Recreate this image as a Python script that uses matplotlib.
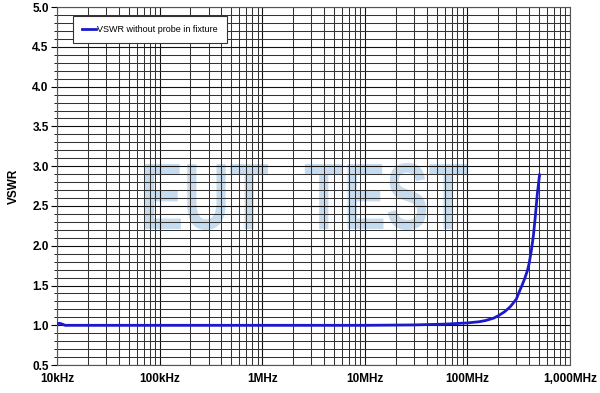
import numpy as np
import matplotlib
matplotlib.use("Agg")
import matplotlib.pyplot as plt
from matplotlib.ticker import FixedLocator, NullFormatter
from matplotlib.textpath import TextPath
from matplotlib.font_manager import FontProperties
from matplotlib.patches import PathPatch
from matplotlib.transforms import Affine2D

plt.rcParams["font.family"] = ["Liberation Sans", "DejaVu Sans"]

# data (frequency in MHz)
freq_mhz = [0.01, 0.0105, 0.011, 0.0115, 0.012, 0.013, 0.02, 0.1, 1, 10, 30,
            60, 100, 130, 150, 180, 200, 230, 260, 280, 300, 320, 340, 360,
            385, 400, 420, 440, 460, 480, 505]
vswr = [1.02, 1.025, 1.02, 1.01, 1.0, 1.0, 1.0, 1.0, 1.0, 1.0, 1.005,
        1.015, 1.03, 1.045, 1.06, 1.09, 1.12, 1.17, 1.23, 1.28, 1.33, 1.42,
        1.5, 1.58, 1.69, 1.78, 1.94, 2.13, 2.38, 2.65, 2.89]
tick_pos = [0.01, 0.1, 1, 10, 100, 1000]
tick_labels = ["10kHz", "100kHz", "1MHz", "10MHz", "100MHz", "1,000MHz"]

fig = plt.figure(figsize=(6, 3.93), dpi=100)
ax = fig.add_axes([0.095, 0.071, 0.855, 0.911])

ax.set_xscale("log")
ax.set_xlim(0.01, 1000)
ax.set_ylim(0.5, 5.0)

# grid
minor_x = [m * 10.0 ** e for e in range(-2, 3) for m in range(2, 10)]
ax.xaxis.set_minor_locator(FixedLocator(minor_x))
ax.xaxis.set_minor_formatter(NullFormatter())
ax.set_xticks(tick_pos)
ax.set_xticklabels(tick_labels, fontweight="bold", fontsize=8.5)
ax.set_yticks(np.arange(0.5, 5.01, 0.5))
ax.set_yticklabels([f"{v:.1f}" for v in np.arange(0.5, 5.01, 0.5)],
                   fontweight="bold", fontsize=8.5)
ax.yaxis.set_minor_locator(FixedLocator(np.arange(0.5, 5.01, 0.1)))
ax.grid(which="major", color="#111111", lw=0.8)
ax.grid(which="minor", color="#333333", lw=0.75)
ax.tick_params(axis="x", which="both", length=0, pad=6)
ax.tick_params(axis="y", which="major", length=4, pad=2)
ax.tick_params(axis="y", which="minor", length=2)
for s in ax.spines.values():
    s.set_color("#555555")
    s.set_linewidth(0.8)
ax.set_axisbelow(True)

ax.set_ylabel("VSWR", fontweight="bold", fontsize=8.5, labelpad=9)

# watermark, squeezed into a narrow box like the original
tp = TextPath((0, 0), "EUT  TEST", size=1,
              prop=FontProperties(family="Liberation Sans", weight="bold"))
bb = tp.get_extents()
x0, x1, y0, y1 = 145 / 600, 467 / 600, 163 / 393, 230 / 393
tr = (Affine2D().translate(-bb.x0, -bb.y0)
      .scale((x1 - x0) / bb.width, (y1 - y0) / bb.height)
      .translate(x0, y0) + fig.transFigure)
ax.add_patch(PathPatch(tp, transform=tr, facecolor="#c6dcee",
                       edgecolor="none", zorder=0.5))

ax.plot(freq_mhz, vswr, color="#1a1acc", lw=2.0, zorder=3,
        label="VSWR without probe in fixture")

leg = ax.legend(loc="upper left", bbox_to_anchor=(0.031, 0.975), fontsize=6.5,
                fancybox=False, framealpha=1, edgecolor="#333333",
                handlelength=1.6, handletextpad=0.1, borderpad=1.0,
                borderaxespad=0)
leg.get_frame().set_linewidth(0.8)
leg.set_zorder(5)

fig.savefig("out.png", dpi=100)
